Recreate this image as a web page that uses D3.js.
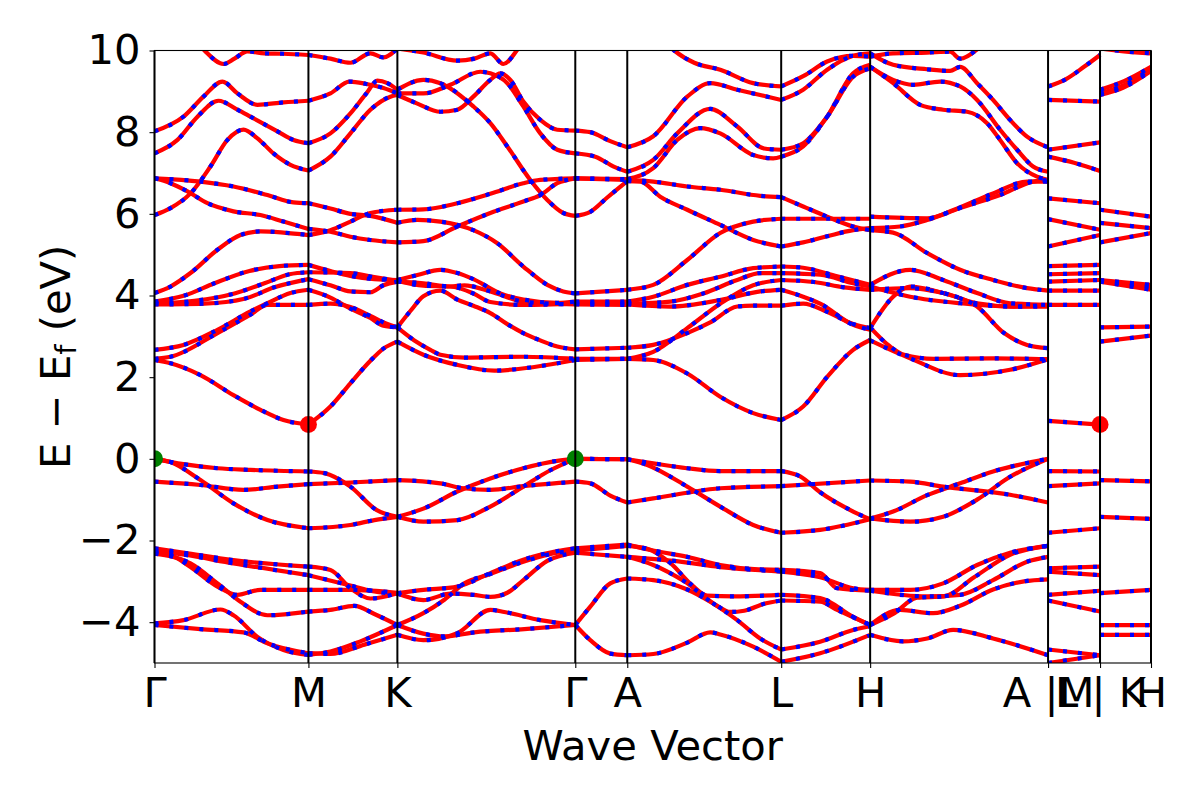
<!DOCTYPE html>
<html>
<head>
<meta charset="utf-8">
<script src="https://cdn.jsdelivr.net/npm/d3@7"></script>
<style>
  body { margin: 0; background: #fff; }
  text { font-family: "DejaVu Sans", sans-serif; }
</style>
</head>
<body>
<div id="chartArea"></div>
<script>
// k-path ticks and labels
var kTicks = [0, 1.54, 2.43, 4.21, 4.73, 6.27, 7.16, 8.94, 9.46, 9.97];
var kLabels = ['Γ', 'M', 'K', 'Γ', 'A', 'L', 'H', 'A |M', 'L | K', 'H'];
var yTicks = [-4, -2, 0, 2, 4, 6, 8, 10];

// bands, one array per path segment, points are [k, E - Ef]
var bandsGM = [
  [[0,11.0],[0.3,10.6],[0.5,10.0],[0.69,9.67],[0.8,9.8],[0.93,9.98],[1.1,9.93],[1.29,9.92],[1.54,9.89]],
  [[0,8.02],[0.29,8.38],[0.49,8.87],[0.68,9.24],[0.83,8.95],[1.03,8.67],[1.29,8.73],[1.54,8.77]],
  [[0,7.48],[0.23,7.81],[0.43,8.38],[0.64,8.77],[0.83,8.55],[0.96,8.38],[1.23,8.02],[1.39,7.81],[1.54,7.73]],
  [[0,5.97],[0.16,6.14],[0.36,6.5],[0.56,7.16],[0.73,7.81],[0.89,8.06],[1.03,7.85],[1.19,7.48],[1.36,7.2],[1.54,7.06]],
  [[0,6.87],[0.46,6.79],[0.79,6.67],[1.13,6.46],[1.39,6.28],[1.54,6.26]],
  [[0,6.87],[0.16,6.75],[0.33,6.55],[0.53,6.26],[0.79,6.06],[1.06,5.97],[1.29,5.81],[1.54,5.63]],
  [[0,4.06],[0.16,4.22],[0.36,4.55],[0.63,5.12],[0.86,5.48],[1.06,5.57],[1.29,5.54],[1.54,5.48]],
  [[0,3.85],[0.3,4.0],[0.6,4.3],[0.95,4.6],[1.25,4.72],[1.54,4.75]],
  [[0,3.8],[0.4,3.87],[0.8,4.05],[1.1,4.3],[1.35,4.52],[1.54,4.57]],
  [[0,3.78],[0.5,3.8],[0.9,3.92],[1.2,4.2],[1.54,4.4]],
  [[0,2.67],[0.29,2.79],[0.63,3.16],[0.96,3.61],[1.13,3.81],[1.36,4.06],[1.54,4.14]],
  [[0,2.45],[0.16,2.5],[0.63,3.08],[0.96,3.53],[1.13,3.77],[1.54,3.77]],
  [[0,2.42],[0.16,2.34],[0.46,2.05],[0.79,1.56],[1.06,1.2],[1.29,0.95],[1.54,0.84]],
  [[0,0],[0.29,-0.13],[0.63,-0.23],[0.96,-0.27],[1.54,-0.31]],
  [[0,0],[0.16,-0.08],[0.46,-0.52],[0.79,-1.09],[1.13,-1.5],[1.54,-1.7]],
  [[0,-0.56],[0.46,-0.64],[0.89,-0.76],[1.23,-0.68],[1.54,-0.62]],
  [[0,-2.19],[0.3,-2.3],[0.79,-2.48],[1.54,-2.64]],
  [[0,-2.25],[0.3,-2.35],[0.79,-2.56],[1.54,-2.85]],
  [[0,-2.3],[0.2,-2.4],[0.36,-2.65],[0.63,-3.13],[0.83,-3.33],[1.06,-3.21],[1.54,-3.21]],
  [[0,-2.32],[0.36,-2.56],[0.63,-3.05],[0.86,-3.5],[1.13,-3.83],[1.54,-3.74]],
  [[0,-4.03],[0.29,-3.95],[0.66,-3.69],[0.79,-3.83],[1.03,-4.36],[1.29,-4.68],[1.54,-4.8]],
  [[0,-4.07],[0.46,-4.17],[0.89,-4.25],[1.13,-4.52],[1.54,-4.76]]
];

var bandsMK = [
  [[1.54,9.89],[1.76,9.8],[1.96,9.7],[2.16,9.93],[2.29,9.83],[2.43,10.05]],
  [[1.54,8.77],[1.76,8.95],[1.95,9.24],[2.12,9.18],[2.29,9.08],[2.43,8.95]],
  [[1.54,7.73],[1.76,7.97],[1.96,8.46],[2.12,8.95],[2.23,9.26],[2.33,9.2],[2.43,9.04]],
  [[1.54,7.06],[1.76,7.4],[1.96,7.97],[2.16,8.55],[2.36,8.87],[2.43,8.91]],
  [[1.54,6.26],[1.76,6.13],[1.96,6.0],[2.16,5.95],[2.43,5.78]],
  [[1.54,5.63],[1.76,5.56],[1.96,5.44],[2.16,5.36],[2.43,5.3]],
  [[1.54,5.48],[1.76,5.6],[1.96,5.81],[2.16,6.02],[2.43,6.1]],
  [[1.54,4.75],[1.76,4.6],[1.96,4.48],[2.2,4.4],[2.43,4.38]],
  [[1.54,4.57],[1.96,4.55],[2.2,4.45],[2.43,4.36]],
  [[1.54,4.4],[1.76,4.25],[1.96,4.1],[2.16,4.08],[2.29,4.25],[2.43,4.34]],
  [[1.54,4.14],[1.76,3.95],[1.96,3.68],[2.16,3.45],[2.29,3.26],[2.43,3.22]],
  [[1.54,3.77],[1.76,3.8],[1.96,3.72],[2.16,3.5],[2.33,3.3],[2.43,3.22]],
  [[1.54,0.84],[1.76,1.28],[1.96,1.85],[2.16,2.4],[2.29,2.7],[2.43,2.87]],
  [[1.54,-0.31],[1.7,-0.35],[1.96,-0.68],[2.22,-1.25],[2.43,-1.42]],
  [[1.54,-0.62],[1.96,-0.58],[2.43,-0.52]],
  [[1.54,-1.7],[1.96,-1.62],[2.2,-1.5],[2.43,-1.42]],
  [[1.54,-2.64],[1.76,-2.72],[1.96,-3.17],[2.16,-3.42],[2.43,-3.29]],
  [[1.54,-2.85],[1.96,-3.1],[2.2,-3.25],[2.43,-3.3]],
  [[1.54,-3.21],[1.96,-3.21],[2.43,-3.28]],
  [[1.54,-3.74],[1.76,-3.7],[2.0,-3.6],[2.2,-3.8],[2.43,-4.07]],
  [[1.54,-4.8],[1.76,-4.72],[2.06,-4.47],[2.43,-4.07]],
  [[1.54,-4.76],[1.76,-4.78],[2.1,-4.55],[2.43,-4.31]]
];

var bandsKG = [
  [[2.43,10.05],[2.69,9.95],[3.03,9.75],[3.2,9.8],[3.36,9.93],[3.49,9.67],[3.64,10.05],[3.8,10.6],[4.21,11.2]],
  [[2.43,9.04],[2.69,9.28],[2.86,9.2],[3.19,8.63],[3.36,8.22],[3.53,7.65],[3.76,6.83],[3.93,6.34],[4.09,6.02],[4.21,5.95]],
  [[2.43,8.91],[2.63,8.7],[2.86,8.5],[3.03,8.55],[3.19,8.87],[3.36,9.28],[3.46,9.44],[3.56,9.28],[3.69,8.75],[3.86,8.3],[4.03,8.06],[4.21,8.04]],
  [[2.43,8.95],[2.69,8.95],[2.96,9.16],[3.26,9.48],[3.36,9.44],[3.53,9.2],[3.69,8.63],[3.86,7.97],[4.03,7.57],[4.21,7.48]],
  [[2.43,6.1],[2.69,6.11],[3.03,6.26],[3.36,6.49],[3.69,6.75],[3.86,6.83],[4.21,6.87]],
  [[2.43,5.3],[2.69,5.33],[3.03,5.69],[3.36,6.02],[3.69,6.3],[3.86,6.46],[4.03,6.75],[4.21,6.87]],
  [[2.43,5.78],[2.63,5.85],[2.86,5.81],[3.19,5.6],[3.43,5.28],[3.69,4.71],[3.93,4.26],[4.09,4.1],[4.21,4.05]],
  [[2.43,4.38],[2.63,4.5],[2.86,4.63],[3.03,4.55],[3.19,4.4],[3.46,4.05],[3.69,3.9],[4.03,3.82],[4.21,3.85]],
  [[2.43,4.36],[2.69,4.24],[2.96,4.22],[3.19,4.05],[3.36,3.84],[3.69,3.77],[4.21,3.8]],
  [[2.43,4.34],[2.69,4.3],[2.96,4.22],[3.1,4.25],[3.36,4.1],[3.69,3.85],[4.21,3.78]],
  [[2.43,3.22],[2.56,3.62],[2.69,3.98],[2.86,4.12],[3.03,3.9],[3.19,3.75],[3.36,3.57],[3.53,3.3],[3.69,3.08],[3.86,2.9],[4.03,2.75],[4.21,2.68]],
  [[2.43,3.22],[2.6,2.9],[2.76,2.67],[2.86,2.55],[3.1,2.48],[3.69,2.5],[4.21,2.45]],
  [[2.43,2.87],[2.69,2.55],[3.03,2.3],[3.4,2.16],[3.8,2.25],[4.21,2.42]],
  [[2.43,-1.42],[2.69,-1.54],[3.03,-1.5],[3.36,-1.17],[3.69,-0.68],[3.96,-0.28],[4.21,0]],
  [[2.43,-1.42],[2.69,-1.22],[3.03,-0.8],[3.36,-0.48],[3.69,-0.23],[4.03,-0.05],[4.21,0]],
  [[2.43,-0.52],[2.86,-0.6],[3.09,-0.72],[3.36,-0.76],[3.69,-0.67],[4.21,-0.56]],
  [[2.43,-3.29],[2.69,-3.21],[3.03,-3.13],[3.36,-2.8],[3.69,-2.47],[4.03,-2.26],[4.21,-2.19]],
  [[2.43,-3.3],[2.69,-3.46],[2.96,-3.3],[3.19,-3.33],[3.36,-3.38],[3.53,-3.28],[3.69,-2.97],[3.93,-2.5],[4.21,-2.3]],
  [[2.43,-4.07],[2.69,-3.78],[2.9,-3.45],[3.1,-3.05],[3.36,-2.82],[3.69,-2.52],[4.03,-2.3],[4.21,-2.25]],
  [[2.43,-4.07],[2.69,-4.28],[2.9,-4.35],[3.2,-4.25],[3.7,-4.17],[4.21,-4.07]],
  [[2.43,-4.31],[2.69,-4.44],[3.03,-4.27],[3.36,-3.7],[3.5,-3.75],[3.86,-3.95],[4.21,-4.07]]
];

var bandsGA = [
  [[4.21,8.04],[4.36,8.0],[4.56,7.78],[4.73,7.63]],
  [[4.21,7.48],[4.41,7.4],[4.6,7.15],[4.73,7.03]],
  [[4.21,6.87],[4.73,6.85]],
  [[4.21,6.87],[4.73,6.83]],
  [[4.21,5.95],[4.36,6.05],[4.53,6.4],[4.73,6.8]],
  [[4.21,4.05],[4.73,4.14]],
  [[4.21,3.85],[4.73,3.85]],
  [[4.21,3.8],[4.73,3.8]],
  [[4.21,3.78],[4.73,3.77]],
  [[4.21,2.68],[4.73,2.72]],
  [[4.21,2.45],[4.73,2.45]],
  [[4.21,2.42],[4.73,2.45]],
  [[4.21,0],[4.73,-0.01]],
  [[4.21,0],[4.73,-0.01]],
  [[4.21,-0.56],[4.36,-0.6],[4.56,-0.9],[4.73,-1.07]],
  [[4.21,-2.19],[4.73,-2.1]],
  [[4.21,-2.25],[4.73,-2.13]],
  [[4.21,-2.3],[4.73,-2.4]],
  [[4.21,-4.07],[4.36,-3.62],[4.56,-3.05],[4.73,-2.93]],
  [[4.21,-4.07],[4.36,-4.44],[4.56,-4.77],[4.73,-4.81]]
];

var bandsAL = [
  [[4.73,11.0],[5.0,10.5],[5.2,10.0],[5.4,9.7],[5.66,9.53],[5.99,9.2],[6.27,9.12]],
  [[4.73,7.63],[4.99,7.9],[5.33,8.87],[5.56,9.2],[5.83,9.04],[6.27,8.79]],
  [[4.73,7.03],[4.99,7.32],[5.23,7.97],[5.56,8.57],[5.83,8.14],[6.1,7.6],[6.27,7.57]],
  [[4.73,6.85],[4.99,7.12],[5.23,7.81],[5.46,8.1],[5.66,7.97],[5.99,7.44],[6.19,7.36],[6.27,7.4]],
  [[4.73,6.83],[4.99,6.79],[5.33,6.67],[5.66,6.59],[6.06,6.44],[6.27,6.41]],
  [[4.73,6.8],[4.86,6.79],[5.06,6.42],[5.33,6.1],[5.66,5.73],[5.99,5.36],[6.27,5.2]],
  [[4.73,4.14],[4.99,4.26],[5.33,4.87],[5.66,5.53],[5.99,5.81],[6.27,5.88]],
  [[4.73,3.85],[4.99,3.97],[5.33,4.26],[5.66,4.46],[5.99,4.67],[6.27,4.71]],
  [[4.73,3.8],[5.16,3.85],[5.49,4.05],[5.83,4.38],[6.06,4.55],[6.27,4.55]],
  [[4.73,3.78],[5.16,3.73],[5.66,3.89],[6.06,4.1],[6.27,4.14]],
  [[4.73,2.72],[4.99,2.79],[5.33,3.08],[5.56,3.34],[5.83,3.73],[5.99,3.75],[6.27,3.75]],
  [[4.73,2.45],[4.99,2.62],[5.33,3.2],[5.66,3.8],[5.99,4.25],[6.27,4.38]],
  [[4.73,2.45],[4.99,2.42],[5.33,2.09],[5.66,1.52],[5.99,1.12],[6.27,0.95]],
  [[4.73,-0.01],[4.99,-0.11],[5.33,-0.23],[5.66,-0.3],[6.27,-0.3]],
  [[4.73,-0.01],[4.93,-0.15],[5.33,-0.68],[5.66,-1.17],[5.99,-1.62],[6.27,-1.81]],
  [[4.73,-1.07],[4.99,-0.97],[5.33,-0.83],[5.66,-0.72],[6.27,-0.67]],
  [[4.73,-2.1],[5.0,-2.25],[5.33,-2.4],[5.66,-2.6],[6.0,-2.7],[6.27,-2.72]],
  [[4.73,-2.4],[5.2,-2.5],[5.66,-2.65],[6.27,-2.76]],
  [[4.73,-2.13],[4.93,-2.2],[5.16,-2.55],[5.38,-3.1],[5.53,-3.35],[5.8,-3.37],[6.27,-3.33]],
  [[4.73,-2.4],[4.99,-2.6],[5.3,-3.0],[5.63,-3.6],[5.76,-3.75],[5.9,-3.72],[6.1,-3.55],[6.27,-3.47]],
  [[4.73,-2.93],[4.99,-2.97],[5.33,-3.2],[5.56,-3.5],[5.83,-3.95],[6.06,-4.4],[6.27,-4.67]],
  [[4.73,-4.81],[4.99,-4.78],[5.33,-4.5],[5.56,-4.25],[5.66,-4.3],[5.99,-4.6],[6.27,-4.97]]
];

var bandsLH = [
  [[6.27,9.12],[6.49,9.37],[6.73,9.73],[6.99,9.87],[7.16,9.85]],
  [[6.27,8.79],[6.49,9.04],[6.73,9.53],[6.99,9.87],[7.16,9.93]],
  [[6.27,7.57],[6.49,7.73],[6.73,8.38],[6.99,9.36],[7.16,9.56]],
  [[6.27,7.4],[6.49,7.65],[6.73,8.38],[6.99,9.44],[7.16,9.65]],
  [[6.27,6.41],[6.49,6.18],[6.73,5.93],[6.99,5.69],[7.16,5.6]],
  [[6.27,5.88],[7.16,5.88]],
  [[6.27,5.2],[6.49,5.3],[6.73,5.45],[6.99,5.6],[7.16,5.65]],
  [[6.27,4.71],[6.49,4.68],[6.83,4.47],[7.16,4.26]],
  [[6.27,4.55],[6.66,4.51],[6.99,4.3],[7.16,4.22]],
  [[6.27,4.38],[6.6,4.33],[6.9,4.2],[7.16,4.14]],
  [[6.27,4.14],[6.49,3.97],[6.66,3.8],[6.99,3.28],[7.16,3.16]],
  [[6.27,3.75],[6.49,3.8],[6.73,3.6],[6.99,3.3],[7.16,3.2]],
  [[6.27,0.95],[6.49,1.28],[6.73,2.01],[6.99,2.67],[7.16,2.91]],
  [[6.27,-0.3],[6.46,-0.43],[6.66,-0.82],[6.99,-1.29],[7.16,-1.48]],
  [[6.27,-1.81],[6.66,-1.74],[7.16,-1.48]],
  [[6.27,-0.67],[7.16,-0.53]],
  [[6.27,-2.72],[6.66,-2.8],[6.83,-3.17],[7.16,-3.23]],
  [[6.27,-2.76],[6.66,-2.9],[6.99,-3.17],[7.16,-3.21]],
  [[6.27,-3.33],[6.66,-3.41],[6.99,-3.87],[7.16,-4.07]],
  [[6.27,-3.47],[6.66,-3.5],[6.83,-3.7],[7.16,-4.07]],
  [[6.27,-4.67],[6.66,-4.48],[6.99,-4.19],[7.16,-4.1]],
  [[6.27,-4.97],[6.66,-4.76],[7.16,-4.31]]
];

var bandsHA = [
  [[7.16,9.85],[7.39,9.93],[7.73,9.95],[7.96,9.97],[8.06,9.8],[8.23,10.03],[8.4,10.5],[8.94,11.0]],
  [[7.16,9.93],[7.39,9.65],[7.73,9.54],[7.96,9.5],[8.06,9.6],[8.23,9.2],[8.39,8.79],[8.56,8.3],[8.73,7.89],[8.94,7.63]],
  [[7.16,9.6],[7.39,9.28],[7.59,9.16],[7.86,9.24],[8.06,9.12],[8.23,8.79],[8.46,8.06],[8.63,7.57],[8.79,7.16],[8.94,7.03]],
  [[7.16,9.6],[7.39,9.2],[7.66,8.67],[7.89,8.55],[8.13,8.5],[8.33,8.22],[8.46,7.81],[8.63,7.24],[8.83,6.91],[8.94,6.83]],
  [[7.16,5.93],[7.73,5.89],[8.0,6.1],[8.39,6.5],[8.73,6.79],[8.94,6.79]],
  [[7.16,5.65],[7.46,5.69],[7.73,5.85],[8.06,6.14],[8.46,6.46],[8.79,6.79],[8.94,6.83]],
  [[7.16,5.6],[7.39,5.54],[7.73,5.04],[8.06,4.63],[8.39,4.38],[8.73,4.18],[8.94,4.12]],
  [[7.16,4.26],[7.56,4.63],[7.89,4.38],[8.23,4.06],[8.56,3.81],[8.94,3.77]],
  [[7.16,4.14],[7.56,4.18],[7.89,4.06],[8.23,3.81],[8.6,3.73],[8.94,3.77]],
  [[7.16,4.22],[7.56,3.97],[8.06,3.81],[8.56,3.73],[8.94,3.73]],
  [[7.16,3.2],[7.39,3.97],[7.56,4.22],[7.89,4.06],[8.23,3.73],[8.5,3.08],[8.73,2.79],[8.94,2.71]],
  [[7.16,3.22],[7.36,2.75],[7.5,2.55],[7.8,2.45],[8.4,2.46],[8.94,2.44]],
  [[7.16,2.9],[7.56,2.46],[8.06,2.05],[8.56,2.18],[8.94,2.44]],
  [[7.16,-0.53],[7.56,-0.56],[7.89,-0.68],[8.56,-0.88],[8.94,-1.07]],
  [[7.16,-1.46],[7.56,-1.54],[7.89,-1.42],[8.23,-1.0],[8.56,-0.44],[8.94,0]],
  [[7.16,-1.46],[7.39,-1.29],[7.73,-0.89],[8.06,-0.6],[8.39,-0.31],[8.94,0]],
  [[7.16,-3.21],[7.56,-3.21],[7.89,-3.05],[8.23,-2.6],[8.56,-2.3],[8.94,-2.13]],
  [[7.16,-3.23],[7.73,-3.37],[8.06,-3.33],[8.39,-2.97],[8.73,-2.52],[8.94,-2.4]],
  [[7.16,-4.07],[7.39,-3.8],[7.63,-3.4],[7.9,-3.37],[8.2,-2.9],[8.56,-2.35],[8.94,-2.13]],
  [[7.16,-4.07],[7.46,-3.7],[7.79,-3.78],[8.06,-3.6],[8.39,-3.2],[8.7,-3.0],[8.94,-2.95]],
  [[7.16,-4.31],[7.49,-4.47],[7.73,-4.4],[7.99,-4.19],[8.39,-4.4],[8.94,-4.81]]
];

var bandsML = [
  [[8.94,9.12],[9.12,9.3],[9.3,9.6],[9.46,9.89]],
  [[8.94,8.79],[9.46,8.75]],
  [[8.94,7.57],[9.46,7.75]],
  [[8.94,7.4],[9.2,7.25],[9.46,7.05]],
  [[8.94,6.38],[9.46,6.26]],
  [[8.94,5.87],[9.46,5.61]],
  [[8.94,5.2],[9.46,5.48]],
  [[8.94,4.72],[9.46,4.75]],
  [[8.94,4.52],[9.46,4.55]],
  [[8.94,4.34],[9.46,4.38]],
  [[8.94,4.12],[9.46,4.12]],
  [[8.94,3.77],[9.46,3.77]],
  [[8.94,0.93],[9.46,0.84]],
  [[8.94,-0.3],[9.46,-0.31]],
  [[8.94,-0.67],[9.46,-0.6]],
  [[8.94,-1.81],[9.46,-1.7]],
  [[8.94,-2.68],[9.46,-2.64]],
  [[8.94,-2.76],[9.46,-2.85]],
  [[8.94,-3.33],[9.46,-3.23]],
  [[8.94,-3.47],[9.46,-3.74]],
  [[8.94,-4.67],[9.46,-4.81]],
  [[8.94,-5.0],[9.46,-4.81]]
];

var bandsKH = [
  [[9.46,10.05],[9.7,9.98],[9.97,9.93]],
  [[9.46,9.04],[9.7,9.25],[9.97,9.6]],
  [[9.46,8.95],[9.7,9.15],[9.97,9.55]],
  [[9.46,8.91],[9.7,9.1],[9.97,9.5]],
  [[9.46,6.1],[9.97,5.93]],
  [[9.46,5.78],[9.97,5.65]],
  [[9.46,5.3],[9.97,5.53]],
  [[9.46,4.38],[9.97,4.26]],
  [[9.46,4.36],[9.97,4.22]],
  [[9.46,4.34],[9.97,4.14]],
  [[9.46,3.22],[9.97,3.24]],
  [[9.46,2.87],[9.97,3.02]],
  [[9.46,-0.52],[9.97,-0.55]],
  [[9.46,-1.42],[9.97,-1.47]],
  [[9.46,-3.29],[9.97,-3.21]],
  [[9.46,-4.07],[9.97,-4.07]],
  [[9.46,-4.31],[9.97,-4.31]]
];

// band edges: VBM (green) and CBM (red)
var vbm = [[0, 0], [4.21, 0]];
var cbm = [[1.54, 0.84], [9.46, 0.84]];

var w = 1200, h = 800;
var plotL = 154.5, plotR = 1151, plotT = 50.5, plotB = 663;

var svg = d3.select('#chartArea').append('svg')
    .attr('width', w)
    .attr('height', h);

var xScale = d3.scaleLinear()
    .domain([0, 9.97])
    .range([plotL, plotR]);

var yScale = d3.scaleLinear()
    .domain([-5, 10])
    .range([plotB, plotT]);

svg.append('clipPath').attr('id', 'plotClip')
  .append('rect')
    .attr('x', plotL).attr('y', plotT)
    .attr('width', plotR - plotL).attr('height', plotB - plotT);

var line = d3.line()
    .x(function (d) { return xScale(d[0]); })
    .y(function (d) { return yScale(d[1]); })
    .curve(d3.curveMonotoneX);

var allBands = [].concat(bandsGM, bandsMK, bandsKG, bandsGA, bandsAL, bandsLH, bandsHA, bandsML, bandsKH);

var plot = svg.append('g').attr('clip-path', 'url(#plotClip)');

// spin up: red solid, spin down: blue dotted on top
plot.selectAll('path.up')
    .data(allBands)
    .enter()
    .append('path')
    .attr('class', 'up')
    .attr('d', line)
    .attr('fill', 'none')
    .attr('stroke', 'red')
    .attr('stroke-width', 4.2);

plot.selectAll('path.down')
    .data(allBands)
    .enter()
    .append('path')
    .attr('class', 'down')
    .attr('d', line)
    .attr('fill', 'none')
    .attr('stroke', 'blue')
    .attr('stroke-width', 4.2)
    .attr('stroke-dasharray', '4,11');

// high-symmetry vertical lines
svg.selectAll('line.kline')
    .data(kTicks)
    .enter()
    .append('line')
    .attr('class', 'kline')
    .attr('x1', xScale).attr('x2', xScale)
    .attr('y1', plotT).attr('y2', plotB)
    .attr('stroke', 'black')
    .attr('stroke-width', 2);

plot.selectAll('circle.vbm')
    .data(vbm)
    .enter()
    .append('circle')
    .attr('cx', function (d) { return xScale(d[0]); })
    .attr('cy', function (d) { return yScale(d[1]); })
    .attr('r', 8.5)
    .attr('fill', 'green');

plot.selectAll('circle.cbm')
    .data(cbm)
    .enter()
    .append('circle')
    .attr('cx', function (d) { return xScale(d[0]); })
    .attr('cy', function (d) { return yScale(d[1]); })
    .attr('r', 8.5)
    .attr('fill', 'red');

// axes
var yAxis = d3.axisLeft(yScale)
    .tickValues(yTicks)
    .tickSize(5)
    .tickPadding(9);

var xAxis = d3.axisBottom(xScale)
    .tickValues(kTicks)
    .tickSize(5)
    .tickPadding(9)
    .tickFormat(function (d, i) { return kLabels[i]; });

var gy = svg.append('g')
    .attr('transform', 'translate(' + plotL + ',0)')
    .call(yAxis);

var gx = svg.append('g')
    .attr('transform', 'translate(0,' + plotB + ')')
    .call(xAxis);

[gx, gy].forEach(function (g) {
  g.select('.domain').remove();
  g.selectAll('line').attr('stroke', 'black').attr('stroke-width', 1.1);
  g.selectAll('text')
    .attr('fill', 'black')
    .style('font-family', '"DejaVu Sans", sans-serif')
    .style('font-size', '41.7px');
});

svg.append('rect')
    .attr('x', plotL).attr('y', plotT)
    .attr('width', plotR - plotL).attr('height', plotB - plotT)
    .attr('fill', 'none')
    .attr('stroke', 'black')
    .attr('stroke-width', 1.1);

svg.append('text')
    .attr('x', (plotL + plotR) / 2)
    .attr('y', 760)
    .attr('text-anchor', 'middle')
    .style('font-size', '41.7px')
    .text('Wave Vector');

var ylab = svg.append('text')
    .attr('transform', 'translate(70,' + ((plotT + plotB) / 2) + ') rotate(-90)')
    .attr('text-anchor', 'middle')
    .style('font-size', '41.7px');
ylab.append('tspan').text('E  −  E');
ylab.append('tspan').attr('baseline-shift', '-22%').style('font-size', '29px').text('f');
ylab.append('tspan').text(' (eV)');
</script>
</body>
</html>
